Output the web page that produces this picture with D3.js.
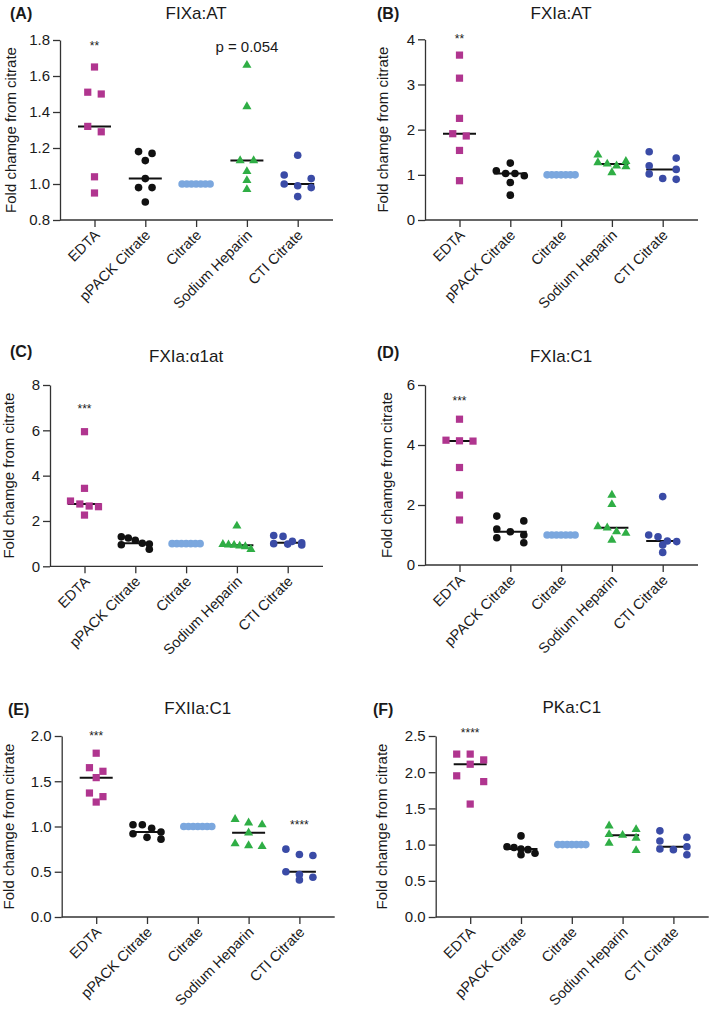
<!DOCTYPE html>
<html><head><meta charset="utf-8">
<script src="https://cdn.jsdelivr.net/npm/d3@7"></script>
<style>
body{margin:0;background:#fff}
svg{display:block}
text{font-family:"Liberation Sans",Arial,Helvetica,sans-serif;fill:#1a1a1a}
</style>
</head><body>
<svg id="chart" width="709" height="1012"></svg>
<script>
// ---------- data ----------
const categories = ["EDTA", "pPACK Citrate", "Citrate", "Sodium Heparin", "CTI Citrate"];
const panelTitles = ["FIXa:AT", "FXIa:AT", "FXIa:\u03b11at", "FXIa:C1", "FXIIa:C1", "PKa:C1"];
const panelLetters = ["(A)", "(B)", "(C)", "(D)", "(E)", "(F)"];
const yLabel = "Fold chamge from citrate";

const citrateRef = [1, 1, 1, 1, 1, 1, 1];

const A_EDTA = [1.65, 1.51, 1.50, 1.32, 1.29, 1.04, 0.95];
const A_pPACK = [1.18, 1.17, 1.13, 1.03, 0.98, 0.98, 0.90];
const A_Heparin = [1.66, 1.43, 1.13, 1.13, 1.07, 1.02, 0.97];
const A_CTI = [1.16, 1.05, 1.03, 1.00, 0.99, 0.98, 0.93];

const B_EDTA = [3.65, 3.14, 2.25, 1.91, 1.86, 1.54, 0.87];
const B_pPACK = [1.26, 1.09, 1.03, 1.03, 0.98, 0.83, 0.55];
const B_Heparin = [1.44, 1.30, 1.27, 1.24, 1.20, 1.18, 1.05];
const B_CTI = [1.51, 1.37, 1.20, 1.12, 1.02, 0.92, 0.90];

const C_EDTA = [5.94, 3.44, 2.88, 2.75, 2.66, 2.63, 2.26];
const C_pPACK = [1.30, 1.25, 1.15, 1.02, 0.98, 0.95, 0.75];
const C_Heparin = [1.78, 0.97, 0.95, 0.93, 0.90, 0.87, 0.75];
const C_CTI = [1.36, 1.32, 1.10, 1.04, 1.00, 0.98, 0.94];

const D_EDTA = [4.86, 4.16, 4.14, 4.13, 3.25, 2.33, 1.50];
const D_pPACK = [1.63, 1.47, 1.20, 1.11, 1.00, 0.91, 0.74];
const D_Heparin = [2.33, 2.02, 1.28, 1.24, 1.11, 1.06, 0.83];
const D_CTI = [2.28, 1.00, 0.94, 0.80, 0.78, 0.67, 0.42];

const E_EDTA = [1.81, 1.65, 1.61, 1.54, 1.37, 1.33, 1.27];
const E_pPACK = [1.02, 1.02, 0.98, 0.94, 0.92, 0.88, 0.86];
const E_Heparin = [1.08, 1.04, 1.02, 0.93, 0.81, 0.79, 0.78];
const E_CTI = [0.75, 0.69, 0.68, 0.50, 0.47, 0.44, 0.41];

const F_EDTA = [2.25, 2.25, 2.17, 2.11, 1.95, 1.87, 1.56];
const F_pPACK = [1.12, 0.97, 0.96, 0.94, 0.93, 0.88, 0.86];
const F_Heparin = [1.26, 1.21, 1.14, 1.13, 1.09, 1.02, 0.92];
const F_CTI = [1.19, 1.10, 1.05, 0.97, 0.94, 0.93, 0.86];

const panelSeries = [
  [A_EDTA, A_pPACK, citrateRef, A_Heparin, A_CTI],
  [B_EDTA, B_pPACK, citrateRef, B_Heparin, B_CTI],
  [C_EDTA, C_pPACK, citrateRef, C_Heparin, C_CTI],
  [D_EDTA, D_pPACK, citrateRef, D_Heparin, D_CTI],
  [E_EDTA, E_pPACK, citrateRef, E_Heparin, E_CTI],
  [F_EDTA, F_pPACK, citrateRef, F_Heparin, F_CTI]
];

const ticksA = [0.8, 1.0, 1.2, 1.4, 1.6, 1.8];
const ticksB = [0, 1, 2, 3, 4];
const ticksC = [0, 2, 4, 6, 8];
const ticksD = [0, 2, 4, 6];
const ticksE = [0, 0.5, 1.0, 1.5, 2.0];
const ticksF = [0, 0.5, 1.0, 1.5, 2.0, 2.5];
const panelTicks = [ticksA, ticksB, ticksC, ticksD, ticksE, ticksF];
const tickFormats = [".1f", "d", "d", "d", ".1f", ".1f"];

// significance annotations: panel index, category index, label, value level
const annPanel = [0, 0, 1, 2, 3, 4, 4, 5];
const annCat   = [0, 3, 0, 0, 0, 0, 4, 0];
const annText  = ["**", "p = 0.054", "**", "***", "***", "***", "****", "****"];
const annLevel = [1.78, 1.76, 4.06, 7.04, 5.56, 2.03, 1.04, 2.58];

// ---------- layout / style ----------
const layout = [
  {ax: 60,    top: 40,   bot: 220,   ldx: 49, lx: 10,  ly: 19,    ty: 18.5},
  {ax: 425,   top: 39.3, bot: 220,   ldx: 42, lx: 377, ly: 19,    ty: 18.5},
  {ax: 50,    top: 385,  bot: 566.3, ldx: 41, lx: 10,  ly: 357,   ty: 362},
  {ax: 425,   top: 385,  bot: 565,   ldx: 38, lx: 377, ly: 357.7, ty: 362.3},
  {ax: 61.7,  top: 736,  bot: 917,   ldx: 53, lx: 8,   ly: 714.5, ty: 714},
  {ax: 435.7, top: 736,  bot: 917,   ldx: 54, lx: 373, ly: 714.5, ty: 713}
];
const colors = ["#b0358f", "#111111", "#7ba7de", "#2fae45", "#3a4ba6"];
const shapes = ["square", "circle", "circle", "triangle", "circle"];
const axisColor = "#333";
const catOffset = 34.5, catStep = 50.8, axisLen = 273;
const diam = 7.5;

const svg = d3.select("#chart");

function swarm(vals, y) {
  const pts = vals.map(v => ({v, y: y(v)})).sort((a, b) => a.y - b.y);
  const rows = []; let cur = null;
  for (const p of pts) {
    if (cur && p.y - cur[0].y < diam) cur.push(p);
    else { cur = [p]; rows.push(cur); }
  }
  const maxN = d3.max(rows, r => r.length);
  const sp = maxN > 1 ? Math.min(13.5, 28 / (maxN - 1)) : 0;
  const W = sp * (maxN - 1);
  rows.forEach(r => {
    const n = r.length;
    r.forEach((p, i) => { p.dx = n === 1 ? 0 : -W / 2 + i * W / (n - 1); });
  });
  return pts;
}

panelSeries.forEach((series, pi) => {
  const L = layout[pi];
  const ticks = panelTicks[pi];
  const y = d3.scaleLinear().domain([ticks[0], ticks[ticks.length - 1]]).range([L.bot, L.top]);
  const x = d3.scalePoint().domain(categories)
    .range([L.ax + catOffset, L.ax + catOffset + catStep * (categories.length - 1)]);
  const g = svg.append("g");

  // y axis
  const yAxis = d3.axisLeft(y).tickValues(ticks).tickFormat(d3.format(tickFormats[pi]))
    .tickSize(7).tickSizeOuter(0).tickPadding(3);
  const ya = g.append("g").attr("transform", `translate(${L.ax},0)`).call(yAxis);
  ya.selectAll("path,line").attr("stroke", axisColor).attr("stroke-width", 1.3);
  ya.selectAll("text").attr("font-size", 15).attr("fill", "#1a1a1a")
    .style("font-family", '"Liberation Sans",Arial,sans-serif');

  // x axis
  const xAxis = d3.axisBottom(x).tickSize(7).tickSizeOuter(0).tickFormat("");
  const xa = g.append("g").attr("transform", `translate(0,${L.bot})`).call(xAxis);
  xa.select("path").remove();
  xa.selectAll("line").attr("stroke", axisColor).attr("stroke-width", 1.3);
  xa.append("line").attr("x1", L.ax).attr("x2", L.ax + axisLen).attr("y1", 0).attr("y2", 0)
    .attr("stroke", axisColor).attr("stroke-width", 1.3);
  categories.forEach(c => {
    g.append("text")
      .attr("transform", `translate(${x(c) + 6},${L.bot + 16}) rotate(-45)`)
      .attr("text-anchor", "end").attr("font-size", 14.5).text(c);
  });

  // y label
  g.append("text")
    .attr("transform", `translate(${L.ax - L.ldx},${(L.top + L.bot) / 2}) rotate(-90)`)
    .attr("text-anchor", "middle").attr("dy", "0.35em").attr("font-size", 15).text(yLabel);

  // title and letter
  g.append("text").attr("x", x(categories[2])).attr("y", L.ty).attr("text-anchor", "middle")
    .attr("font-size", 17).text(panelTitles[pi]);
  g.append("text").attr("x", L.lx).attr("y", L.ly).attr("font-size", 16)
    .attr("font-weight", "bold").text(panelLetters[pi]);

  // medians (beneath points) and points
  series.forEach((vals, ci) => {
    const cx = x(categories[ci]);
    const med = d3.median(vals);
    g.append("line").attr("x1", cx - 16.5).attr("x2", cx + 16.5)
      .attr("y1", y(med)).attr("y2", y(med))
      .attr("stroke", "#111").attr("stroke-width", 2);
  });
  series.forEach((vals, ci) => {
    const cx = x(categories[ci]);
    const pts = swarm(vals, y);
    const sym = shapes[ci] === "square" ? d3.symbolSquare
      : shapes[ci] === "triangle" ? d3.symbolTriangle : d3.symbolCircle;
    const size = shapes[ci] === "square" ? 52 : shapes[ci] === "triangle" ? 36 : Math.PI * 3.8 * 3.8;
    g.append("g").selectAll("path").data(pts).join("path")
      .attr("d", d3.symbol().type(sym).size(size))
      .attr("transform", d => `translate(${cx + d.dx},${d.y})`)
      .attr("fill", colors[ci]);
  });

  // annotations
  annPanel.forEach((p, k) => {
    if (p !== pi) return;
    const isStar = annText[k].startsWith("*");
    g.append("text").attr("x", x(categories[annCat[k]])).attr("y", y(annLevel[k]))
      .attr("text-anchor", "middle")
      .attr("dy", isStar ? 6.5 : "0.35em")
      .attr("font-size", isStar ? 12 : 15)
      .text(annText[k]);
  });
});
</script>
</body></html>
